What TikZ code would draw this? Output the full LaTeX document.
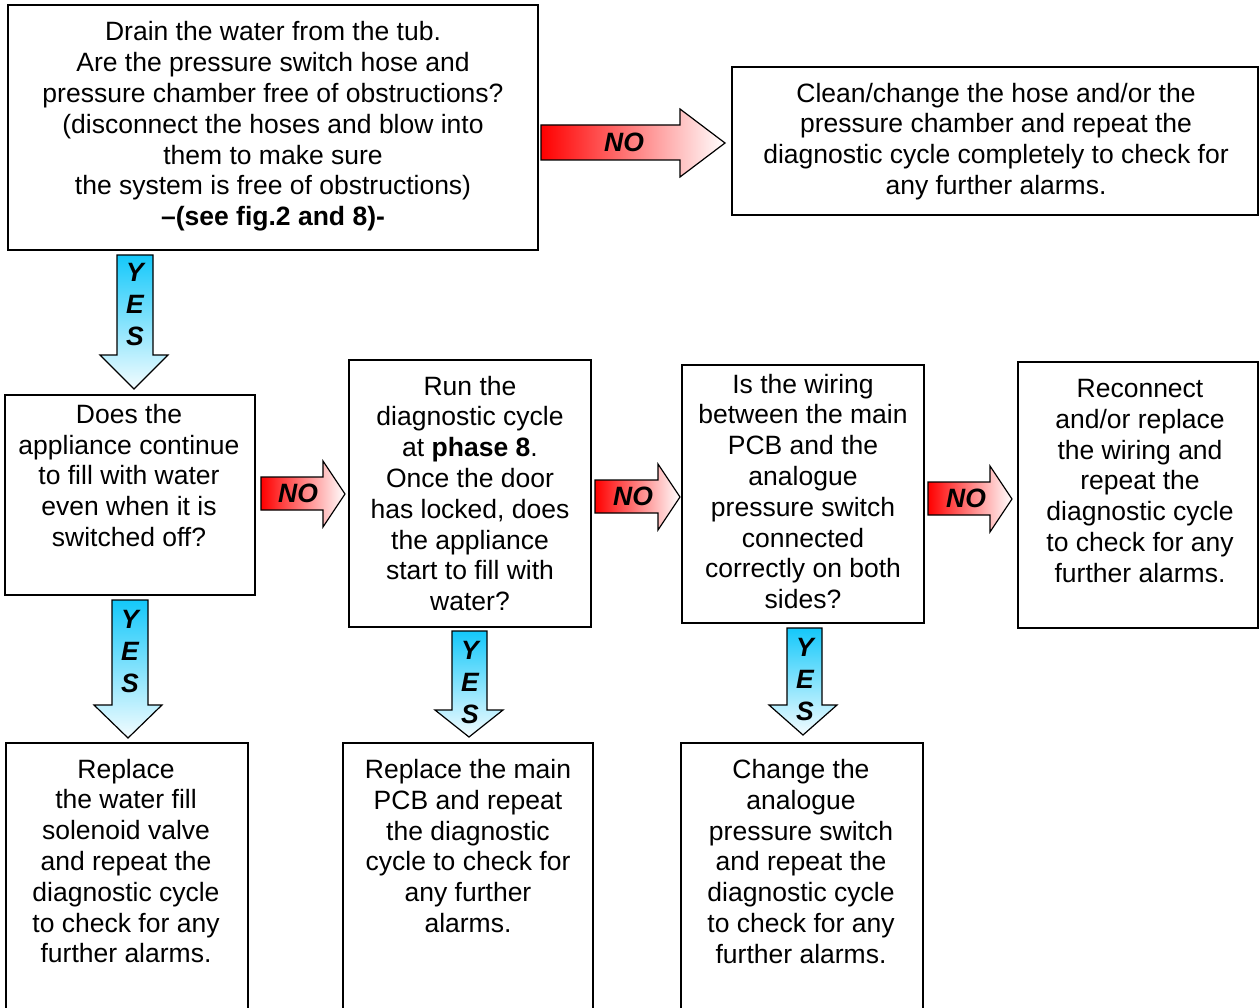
\documentclass[tikz,border=0pt]{standalone}
\usepackage{fontspec}
\setmainfont{Liberation Sans}
\definecolor{yescol}{RGB}{20,200,250}
\definecolor{nocol}{RGB}{255,0,0}
\begin{document}
\begin{tikzpicture}[x=1pt,y=-1pt,
  box/.style={draw=black,line width=1.6pt,rectangle,inner sep=0pt},
  txt/.style={align=center,inner sep=0pt,font=\fontsize{26.5}{30.8}\selectfont},
  lbl/.style={inner sep=0pt,font=\fontsize{26.5}{30.8}\selectfont\bfseries\itshape},
  noarr/.style={draw=black,line width=1.2pt,left color=nocol,right color=white},
  yesarr/.style={draw=black,line width=1.2pt,top color=yescol,bottom color=white!95!yescol}]
\useasboundingbox (0,0) rectangle (1260,1008);
\fill[white] (0,0) rectangle (1260,1008);
% boxes
\node[box,minimum width=530pt,minimum height=245pt] (b1) at (273,127.5) {};
\node[box,minimum width=526pt,minimum height=148pt] (b2) at (995,141) {};
\node[box,minimum width=250pt,minimum height=200pt] (b3) at (130,495) {};
\node[box,minimum width=242pt,minimum height=267pt] (b4) at (470,493.5) {};
\node[box,minimum width=242pt,minimum height=258pt] (b5) at (803,494) {};
\node[box,minimum width=240pt,minimum height=266pt] (b6) at (1138,495) {};
\node[box,minimum width=242pt,minimum height=272pt] (b7) at (127,879) {};
\node[box,minimum width=250pt,minimum height=272pt] (b8) at (468,879) {};
\node[box,minimum width=242pt,minimum height=272pt] (b9) at (802,879) {};
% texts
\node[txt] (t1) at (273,126.5) {Drain the water from the tub.\\Are the pressure switch hose and\\pressure chamber free of obstructions?\\(disconnect the hoses and blow into\\them to make sure\\the system is free of obstructions)\\\textbf{--(see fig.2 and 8)-}};
\node[txt] (t2) at (996,141.5) {Clean/change the hose and/or the\\pressure chamber and repeat the\\diagnostic cycle completely to check for\\any further alarms.};
\node[txt] (t3) at (129,475.5) {Does the\\appliance continue\\to fill with water\\even when it is\\switched off?};
\node[txt] (t4) at (470,493.5) {Run the\\diagnostic cycle\\at \textbf{phase 8}.\\Once the door\\has locked, does\\the appliance\\start to fill with\\water?};
\node[txt] (t5) at (803,491.5) {Is the wiring\\between the main\\PCB and the\\analogue\\pressure switch\\connected\\correctly on both\\sides?};
\node[txt] (t6) at (1140,481) {Reconnect\\and/or replace\\the wiring and\\repeat the\\diagnostic cycle\\to check for any\\further alarms.};
\node[txt] (t7) at (126,861) {Replace\\the water fill\\solenoid valve\\and repeat the\\diagnostic cycle\\to check for any\\further alarms.};
\node[txt] (t8) at (468,846) {Replace the main\\PCB and repeat\\the diagnostic\\cycle to check for\\any further\\alarms.};
\node[txt] (t9) at (801,861.5) {Change the\\analogue\\pressure switch\\and repeat the\\diagnostic cycle\\to check for any\\further alarms.};
% NO arrows
\path[noarr] (541,125) -- (680,125) -- (680,109) -- (725,143) -- (680,177) -- (680,160) -- (541,160) -- cycle;
\path[noarr] (261,477) -- (323,477) -- (323,461) -- (345,494) -- (323,527) -- (323,510) -- (261,510) -- cycle;
\path[noarr] (595,480) -- (658,480) -- (658,464) -- (680,497) -- (658,530) -- (658,513) -- (595,513) -- cycle;
\path[noarr] (928,482) -- (990,482) -- (990,466) -- (1012,499) -- (990,532) -- (990,515) -- (928,515) -- cycle;
\node[lbl] (n1) at (624,142) {NO};
\node[lbl] (n2) at (298,493) {NO};
\node[lbl] (n3) at (633,496) {NO};
\node[lbl] (n4) at (966,498) {NO};
% YES arrows
\path[yesarr] (117,255) -- (153,255) -- (153,355) -- (168,355) -- (134,389) -- (100,355) -- (117,355) -- cycle;
\path[yesarr] (112,600) -- (148,600) -- (148,705) -- (162,705) -- (128,738) -- (94,705) -- (112,705) -- cycle;
\path[yesarr] (452,631) -- (487,631) -- (487,710) -- (503,710) -- (469,737) -- (435,710) -- (452,710) -- cycle;
\path[yesarr] (787,628) -- (822,628) -- (822,705) -- (837,705) -- (803,735) -- (769,705) -- (787,705) -- cycle;
\foreach \nm/\x/\y in {y1/135/272, y2/130/619, y3/470/650, y4/805/647}{
  \node[lbl] (\nm a) at (\x,\y) {Y};
  \node[lbl] (\nm b) at (\x,\y+32) {E};
  \node[lbl] (\nm c) at (\x,\y+64) {S};
}
\end{tikzpicture}
\end{document}
